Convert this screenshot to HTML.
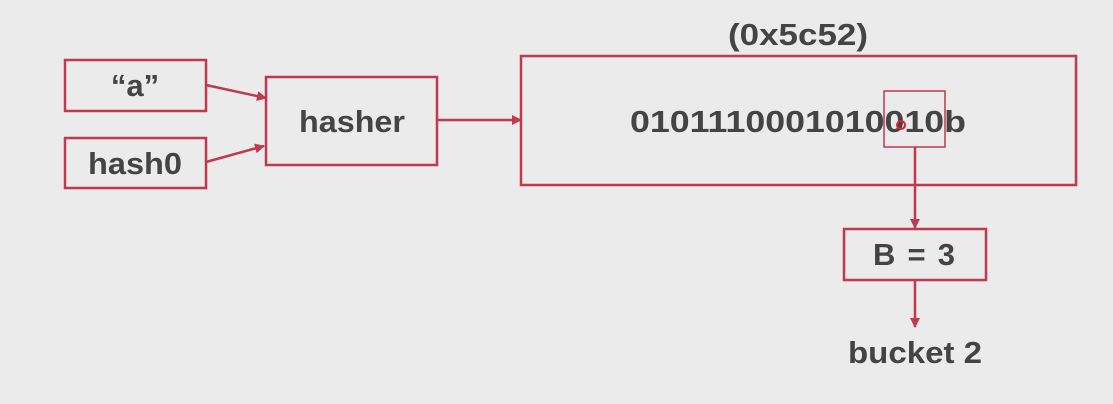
<!DOCTYPE html>
<html><head><style>
html,body{margin:0;padding:0;background:#ebebeb;}
svg{display:block;}
text{font-family:"Liberation Sans",sans-serif;font-weight:bold;fill:#444;}
</style></head><body>
<svg width="1113" height="404" viewBox="0 0 1113 404">
<defs>
<marker id="ar" markerWidth="10" markerHeight="10" refX="9" refY="5" orient="auto" markerUnits="userSpaceOnUse">
<path d="M0,0 L10,5 L0,10 z" fill="#c0394f"/>
</marker>
</defs>
<g fill="none" stroke="#c0394f" stroke-width="2.5">
<rect x="65" y="60" width="141" height="51"/>
<rect x="65" y="138" width="141" height="50"/>
<rect x="266" y="77" width="171" height="88"/>
<rect x="521" y="56" width="555" height="129"/>
<rect x="884" y="91" width="61" height="56" stroke-width="1.5"/>
<rect x="844" y="229" width="142" height="51"/>
<line x1="206" y1="85" x2="266" y2="98" marker-end="url(#ar)"/>
<line x1="206" y1="162" x2="264" y2="146" marker-end="url(#ar)"/>
<line x1="437" y1="120" x2="521" y2="120" marker-end="url(#ar)"/>
<line x1="915" y1="147" x2="915" y2="228" marker-end="url(#ar)"/>
<line x1="915" y1="280" x2="915" y2="327" marker-end="url(#ar)"/>
</g>
<text x="135" y="96" font-size="31" text-anchor="middle">“a”</text>
<text x="135" y="174" font-size="31" text-anchor="middle" textLength="94" lengthAdjust="spacingAndGlyphs">hash0</text>
<text x="352" y="132" font-size="31" text-anchor="middle" textLength="106" lengthAdjust="spacingAndGlyphs">hasher</text>
<text x="798" y="45" font-size="31" text-anchor="middle" textLength="140" lengthAdjust="spacingAndGlyphs">(0x5c52)</text>
<text x="798" y="132" font-size="31" text-anchor="middle" textLength="336" lengthAdjust="spacingAndGlyphs">0101110001010010b</text>
<text x="914" y="265" font-size="31" text-anchor="middle" textLength="82" lengthAdjust="spacing">B = 3</text>
<text x="915" y="363" font-size="31" text-anchor="middle" textLength="134" lengthAdjust="spacingAndGlyphs">bucket 2</text>
<circle cx="901" cy="125" r="4" fill="none" stroke="#e02030" stroke-width="2"/>
</svg>
</body></html>
